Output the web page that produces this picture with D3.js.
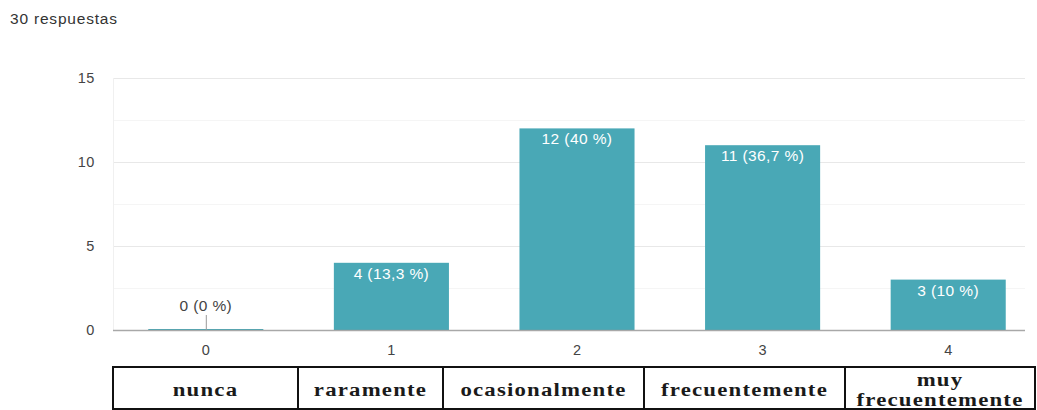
<!DOCTYPE html>
<html>
<head>
<meta charset="utf-8">
<script src="https://cdn.jsdelivr.net/npm/d3@7"></script>
<style>
  html, body { margin: 0; padding: 0; background: #fff; }
  svg { display: block; }
</style>
</head>
<body>
<svg id="chart" width="1037" height="410"></svg>
<script>
// Survey answers: scale points 0–4, count of responses for each
const categories = ["0", "1", "2", "3", "4"];
const counts = [0, 4, 12, 11, 3];
const percentLabels = ["0 %", "13,3 %", "40 %", "36,7 %", "10 %"];
const yTicks = [0, 5, 10, 15];
const scaleNames = ["nunca", "raramente", "ocasionalmente", "frecuentemente", "muy\nfrecuentemente"];
const totalLabel = "30 respuestas";

const svg = d3.select("#chart");
const barColor = "#49a8b6";
const sans = "Arial, 'Liberation Sans', sans-serif";

const plot = { left: 113, right: 1041, top: 78, bottom: 330, gridRight: 1025 };

const x = d3.scaleBand()
  .domain(categories)
  .range([plot.left, plot.right])
  .paddingInner(0.38)
  .paddingOuter(0.19);

const y = d3.scaleLinear()
  .domain([0, 15])
  .range([plot.bottom, plot.top]);

// Header
svg.append("text")
  .attr("x", 10).attr("y", 24)
  .attr("font-family", sans).attr("font-size", 15.5)
  .attr("letter-spacing", 0.8)
  .attr("fill", "#333")
  .text(totalLabel);

// Minor gridlines
svg.append("g")
  .selectAll("line")
  .data(d3.range(2.5, 15, 5))
  .join("line")
  .attr("x1", plot.left).attr("x2", plot.gridRight)
  .attr("y1", d => Math.round(y(d)) + 0.5).attr("y2", d => Math.round(y(d)) + 0.5)
  .attr("stroke", "#f5f5f5");

// Major gridlines with the y axis labels
const yAxis = d3.axisLeft(y).tickValues(yTicks)
  .tickSize(-(plot.gridRight - plot.left)).tickPadding(18);
const gy = svg.append("g")
  .attr("transform", `translate(${plot.left},0)`)
  .call(yAxis);
gy.select(".domain").remove();
gy.selectAll(".tick line").attr("stroke", "#e8e8e8");
gy.selectAll(".tick text")
  .attr("font-family", sans).attr("font-size", 14.5)
  .attr("letter-spacing", 0.6)
  .attr("fill", "#444");

// Left edge of the plot area
svg.append("line")
  .attr("x1", plot.left + 0.5).attr("x2", plot.left + 0.5)
  .attr("y1", plot.top).attr("y2", plot.bottom)
  .attr("stroke", "#f0f0f0");

// Bars
svg.append("g")
  .selectAll("rect")
  .data(counts)
  .join("rect")
  .attr("x", (d, i) => x(categories[i]))
  .attr("width", x.bandwidth())
  .attr("y", d => y(d) - (d === 0 ? 1 : 0))
  .attr("height", d => Math.max(1, y(0) - y(d)))
  .attr("fill", barColor);

// Baseline
svg.append("line")
  .attr("x1", plot.left).attr("x2", plot.gridRight)
  .attr("y1", y(0) + 0.5).attr("y2", y(0) + 0.5)
  .attr("stroke", "#999").attr("stroke-width", 1.5)
  .attr("opacity", 0.8);

// Value labels: inside the bar top, or above with a leader when the bar is empty
const labels = svg.append("g")
  .attr("font-family", sans).attr("font-size", 15.5)
  .attr("letter-spacing", 0.4)
  .attr("text-anchor", "middle");
counts.forEach((d, i) => {
  const cx = x(categories[i]) + x.bandwidth() / 2;
  const txt = `${d} (${percentLabels[i]})`;
  if (d === 0) {
    labels.append("line")
      .attr("x1", cx + 0.5).attr("x2", cx + 0.5)
      .attr("y1", y(0) - 15).attr("y2", y(0))
      .attr("stroke", "#999");
    labels.append("text")
      .attr("x", cx).attr("y", y(0) - 19)
      .attr("fill", "#444")
      .text(txt);
  } else {
    labels.append("text")
      .attr("x", cx).attr("y", y(d) + 16)
      .attr("fill", "#fff")
      .text(txt);
  }
});

// Category axis labels
const xAxis = d3.axisBottom(x).tickSize(0).tickPadding(15);
const gx = svg.append("g")
  .attr("transform", `translate(0,${plot.bottom})`)
  .call(xAxis);
gx.select(".domain").remove();
gx.selectAll(".tick text")
  .attr("font-family", sans).attr("font-size", 14.5)
  .attr("fill", "#444");

// Scale-name table beneath the chart
const cellEdges = [113, 298, 443, 644, 845, 1035];
const tableTop = 367, tableBottom = 409;
const table = svg.append("g");
table.append("rect")
  .attr("x", cellEdges[0]).attr("y", tableTop)
  .attr("width", cellEdges[cellEdges.length - 1] - cellEdges[0])
  .attr("height", tableBottom - tableTop)
  .attr("fill", "none").attr("stroke", "#111").attr("stroke-width", 2);
table.selectAll("line.sep")
  .data(cellEdges.slice(1, -1))
  .join("line")
  .attr("class", "sep")
  .attr("x1", d => d).attr("x2", d => d)
  .attr("y1", tableTop).attr("y2", tableBottom)
  .attr("stroke", "#111").attr("stroke-width", 2);

// Cell text uses a wide bold serif, stretched horizontally
scaleNames.forEach((name, i) => {
  const cx = (cellEdges[i] + cellEdges[i + 1]) / 2;
  const lines = name.split("\n");
  const baselines = lines.length === 1 ? [396] : [386, 406];
  lines.forEach((ln, j) => {
    table.append("g")
      .attr("transform", `translate(${cx},${baselines[j]}) scale(1.2,1)`)
      .append("text")
      .attr("x", 0).attr("y", 0)
      .attr("text-anchor", "middle")
      .attr("font-family", "'Liberation Serif', 'Times New Roman', serif")
      .attr("font-weight", "bold")
      .attr("font-size", 19)
      .attr("letter-spacing", 1)
      .attr("fill", "#1a1a1a")
      .text(ln);
  });
});
</script>
</body>
</html>
